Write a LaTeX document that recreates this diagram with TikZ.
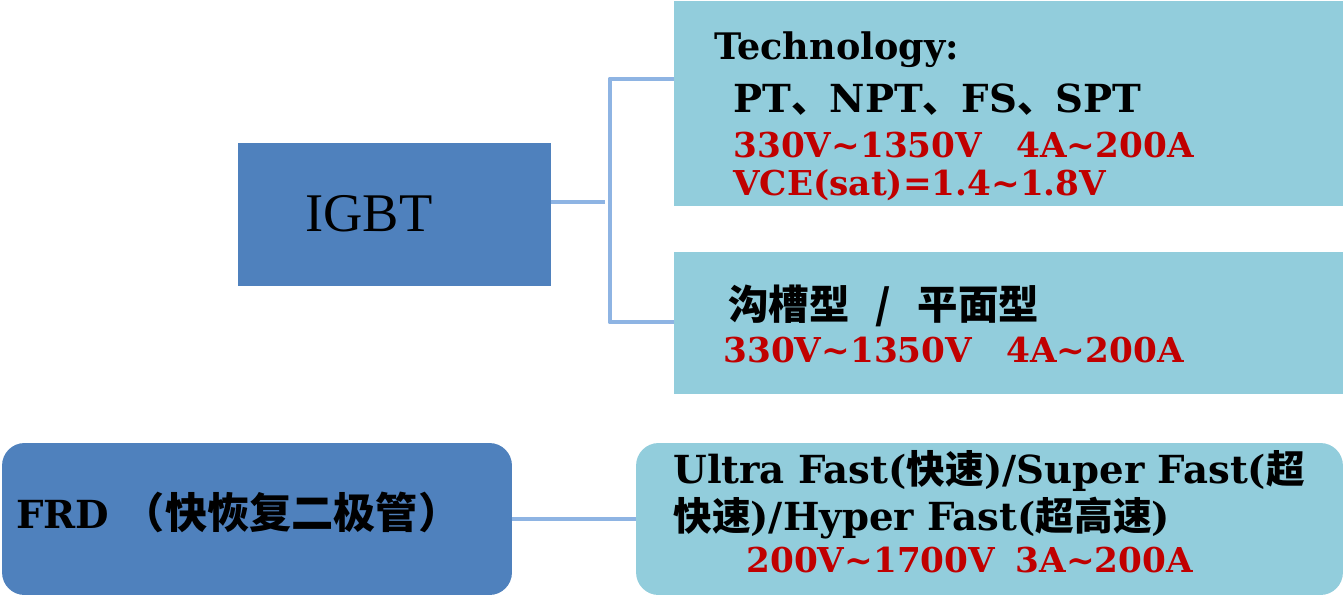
\documentclass[tikz,border=0pt]{standalone}
\usepackage{fontspec}
\setmainfont{DejaVu Serif}
\newfontfamily\cjk{Noto Sans CJK SC}
\newfontfamily\igbtfont{Liberation Serif}
\definecolor{darkblue}{HTML}{4F81BD}
\definecolor{paleblue}{HTML}{92CDDC}
\definecolor{linkblue}{HTML}{8EB4E3}
\definecolor{darkred}{HTML}{C00000}
\newcommand{\zh}[1]{{\cjk\bfseries #1}}

\begin{document}
\begin{tikzpicture}[x=0.02cm,y=-0.02cm,
        darkbox/.style={fill=darkblue,draw=none,inner sep=0pt},
        lightbox/.style={fill=paleblue,draw=none,inner sep=0pt},
        link/.style={draw=linkblue,line width=2.8pt,line join=round},
        txt/.style={anchor=base west,inner sep=0pt,font=\bfseries\fontsize{22}{26}\selectfont},
        redtxt/.style={txt,text=darkred,font=\bfseries\fontsize{19.5}{23}\selectfont}]
        \useasboundingbox (0,0) rectangle (1343,596);
        % boxes
        \node[darkbox,minimum width=6.26cm,minimum height=2.86cm] (igbt) at (394.5,214.5) {};
        \node[lightbox,minimum width=13.38cm,minimum height=4.1cm] (tech) at (1008.5,103.5) {};
        \node[lightbox,minimum width=13.38cm,minimum height=2.84cm] (trench) at (1008.5,323) {};
        \node[darkbox,rounded corners=0.45cm,minimum width=10.2cm,minimum height=3.04cm] (frd) at (257,519) {};
        \node[lightbox,rounded corners=0.45cm,minimum width=14.14cm,minimum height=3.04cm] (speed) at (989.5,519) {};
        % connectors
        \coordinate (fork) at (605,202);
        \coordinate (bartop) at (610,79);
        \coordinate (barbot) at (610,322);
        \draw[link] (igbt.east |- fork) -- (fork);
        \draw[link] (tech.west |- bartop) -- (bartop) -- (barbot) -- (trench.west |- barbot);
        \draw[link] (frd.east) -- (speed.west);
        % IGBT
        \node[anchor=base west,inner sep=0pt,font=\igbtfont\fontsize{31}{36}\selectfont] (igbtlabel) at (305,231) {IGBT};
        \node[txt,font=\bfseries\fontsize{20.8}{25}\selectfont] (techhead) at (714,59) {Technology:};
        \node[txt] (techlist) at (733,112) {PT\zh{、}NPT\zh{、}FS\zh{、}SPT};
        \node[redtxt] (techrange) at (733,157) {330V\textasciitilde1350V\hspace{1.0em}4A\textasciitilde200A};
        \node[redtxt] (vce) at (733,195) {VCE(sat)=1.4\textasciitilde1.8V};
        \node[txt,font=\cjk\bfseries\fontsize{23}{27}\selectfont] (trenchhead) at (728,319) {沟槽型\hspace{0.65em}/\hspace{0.65em}平面型};
        \node[redtxt] (trenchrange) at (723,362) {330V\textasciitilde1350V\hspace{1.0em}4A\textasciitilde200A};
        % FRD
        \node[txt] (frdlabel) at (16,528) {FRD {\fontsize{24}{28}\selectfont\zh{（快恢复二极管）}}};
        \node[txt] (speedone) at (673,483) {Ultra Fast(\zh{快速})/Super Fast(\zh{超}};
        \node[txt] (speedtwo) at (673,530) {\zh{快速})/Hyper Fast(\zh{超高速})};
        \node[redtxt] (speedrange) at (746,572) {200V\textasciitilde1700V\hspace{0.6em}3A\textasciitilde200A};
    \end{tikzpicture}
\end{document}
